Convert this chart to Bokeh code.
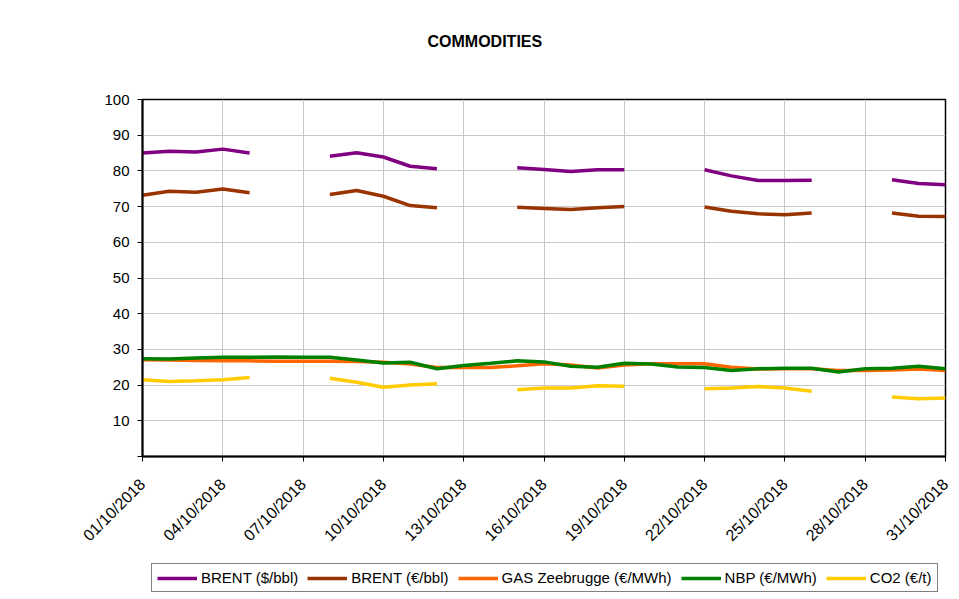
import math
import numpy as np
import pandas as pd
from bokeh.plotting import figure
from bokeh.layouts import column
from bokeh.models import (Range1d, FixedTicker, DatetimeTickFormatter, Legend, LegendItem,
                          ColumnDataSource, Title)
from bokeh.embed import file_html
from bokeh.resources import INLINE

nan = float("nan")

dates = pd.date_range("2018-10-01", "2018-10-31", freq="D")

brent_usd = [85.0, 85.5, 85.3, 86.1, 85.0, nan, nan,
             84.1, 85.1, 83.9, 81.3, 80.6, nan, nan,
             80.9, 80.4, 79.8, 80.3, 80.3, nan, nan,
             80.3, 78.6, 77.3, 77.3, 77.4, nan, nan,
             77.5, 76.5, 76.1]
brent_eur = [73.2, 74.3, 74.0, 74.9, 73.9, nan, nan,
             73.4, 74.5, 72.9, 70.3, 69.7, nan, nan,
             69.8, 69.5, 69.2, 69.7, 70.0, nan, nan,
             69.9, 68.7, 68.0, 67.7, 68.2, nan, nan,
             68.2, 67.3, 67.2]
gas_zee = [27.1, 27.0, 26.9, 26.8, 26.8, 26.7, 26.7,
           26.7, 26.6, 26.4, 25.9, 24.9, 24.9, 24.9,
           25.4, 26.0, 25.6, 24.8, 25.6, 26.0, 26.0,
           26.0, 25.0, 24.5, 24.6, 24.6, 24.1, 24.1,
           24.2, 24.5, 24.1]
nbp = [27.4, 27.3, 27.6, 27.8, 27.8, 27.9, 27.8,
       27.8, 27.0, 26.2, 26.4, 24.6, 25.5, 26.1,
       26.8, 26.5, 25.3, 25.0, 26.1, 25.9, 25.1,
       24.9, 24.1, 24.6, 24.7, 24.7, 23.7, 24.6,
       24.7, 25.3, 24.6]
co2 = [21.5, 21.0, 21.2, 21.5, 22.1, nan, nan,
       21.9, 20.8, 19.4, 20.0, 20.4, nan, nan,
       18.7, 19.2, 19.2, 19.8, 19.7, nan, nan,
       19.0, 19.2, 19.6, 19.2, 18.3, nan, nan,
       16.7, 16.2, 16.4]

series_names = ["BRENT ($/bbl)", "BRENT (€/bbl)", "GAS Zeebrugge (€/MWh)", "NBP (€/MWh)", "CO2 (€/t)"]
series_values = [brent_usd, brent_eur, gas_zee, nbp, co2]
series_colors = ["#800080", "#993300", "#FF6600", "#008000", "#FFCC00"]

y_ticks = [0, 10, 20, 30, 40, 50, 60, 70, 80, 90, 100]
title_text = "COMMODITIES"

FONT = "Liberation Sans"
W = 951

p = figure(width=W, height=560, x_axis_type="datetime", title=None,
           output_backend="svg", toolbar_location=None,
           min_border_left=142, min_border_right=6,
           min_border_top=99, min_border_bottom=104,
           background_fill_color="white", border_fill_color="white")

p.x_range = Range1d(start=dates[0], end=dates[-1])
p.y_range = Range1d(start=0, end=100)

sources = []
for name, vals, col in zip(series_names, series_values, series_colors):
    src = ColumnDataSource(dict(x=dates, y=np.array(vals, dtype=float)))
    sources.append(src)
    p.line("x", "y", source=src, line_color=col, line_width=3.5)

# spacer + title (first added sits closest to the frame)
p.add_layout(Title(text=" ", text_font=FONT, text_font_size="15px", standoff=31), "above")
p.add_layout(Title(text=title_text, align="left", offset=285, standoff=0,
                   text_font=FONT, text_font_size="16px", text_font_style="bold",
                   text_color="black"), "above")

# y axis
p.yaxis.ticker = FixedTicker(ticks=y_ticks)
p.yaxis.major_label_overrides = {0: ""}
p.yaxis.major_label_text_font = FONT
p.yaxis.major_label_text_font_size = "15px"
p.yaxis.major_label_text_color = "black"
p.yaxis.major_label_standoff = 8
p.yaxis.major_tick_out = 5
p.yaxis.major_tick_in = 0
p.yaxis.minor_tick_line_color = None
p.yaxis.axis_line_width = 2
p.yaxis.axis_line_color = "black"
p.yaxis.major_tick_line_color = "black"

# x axis
tick_ms = [d.timestamp() * 1000 for d in dates[::3]]
p.xaxis.ticker = FixedTicker(ticks=tick_ms)
fmt = "%d/%m/%Y"
p.xaxis.formatter = DatetimeTickFormatter(microseconds=fmt, milliseconds=fmt, seconds=fmt,
                                          minsec=fmt, minutes=fmt, hourmin=fmt, hours=fmt,
                                          days=fmt, months=fmt, years=fmt)
p.xaxis.major_label_orientation = math.pi / 4
p.xaxis.major_label_text_font = FONT
p.xaxis.major_label_text_font_size = "16px"
p.xaxis.major_label_text_color = "black"
p.xaxis.major_label_standoff = 20
p.xaxis.major_tick_out = 5
p.xaxis.major_tick_in = 0
p.xaxis.minor_tick_line_color = None
p.xaxis.axis_line_width = 2
p.xaxis.axis_line_color = "black"
p.xaxis.major_tick_line_color = "black"

# grid
p.xgrid.ticker = FixedTicker(ticks=tick_ms)
p.ygrid.ticker = FixedTicker(ticks=y_ticks)
p.grid.grid_line_color = "#c8c8c8"
p.grid.grid_line_width = 1

p.outline_line_color = "black"
p.outline_line_width = 1.5

# legend strip below the chart (series lie outside this strip's ranges; only the key shows)
pl = figure(width=W, height=35, output_backend="svg", toolbar_location=None,
            min_border=0, x_axis_location=None, y_axis_location=None,
            x_range=Range1d(0, 1), y_range=Range1d(-1, 0),
            background_fill_color="white", border_fill_color="white")
pl.grid.visible = False
pl.outline_line_color = None
items = []
for name, col, src in zip(series_names, series_colors, sources):
    r = pl.line("x", "y", source=src, line_color=col, line_width=3.5)
    items.append(LegendItem(label=name, renderers=[r]))

legend = Legend(items=items, orientation="horizontal", location=(9, 3), margin=0,
                padding=5, spacing=9, glyph_width=40, glyph_height=16,
                label_height=17, label_standoff=4,
                label_text_font=FONT, label_text_font_size="15px", label_text_color="black",
                border_line_color="black", border_line_width=1,
                background_fill_color="white", background_fill_alpha=1)
pl.add_layout(legend, "center")

layout = column(p, pl, spacing=0)

open("out.html", "w", encoding="utf-8").write(file_html(layout, INLINE))
